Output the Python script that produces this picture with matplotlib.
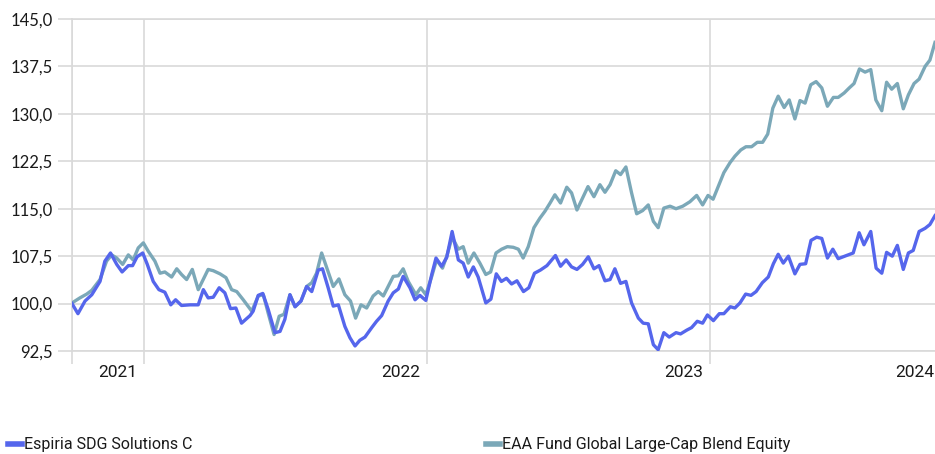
import matplotlib.pyplot as plt

# Growth of 100 — dates as decimal years
espiria_t = [2020.746, 2020.767, 2020.792, 2020.816, 2020.845, 2020.862, 2020.882, 2020.904, 2020.923, 2020.945,
             2020.960, 2020.976, 2020.996, 2021.012, 2021.033, 2021.053, 2021.074, 2021.095, 2021.112, 2021.133,
             2021.163, 2021.192, 2021.210, 2021.227, 2021.245, 2021.266, 2021.286, 2021.306, 2021.325, 2021.345,
             2021.375, 2021.386, 2021.404, 2021.420, 2021.439, 2021.463, 2021.481, 2021.498, 2021.516, 2021.534,
             2021.555, 2021.575, 2021.593, 2021.616, 2021.631, 2021.651, 2021.669, 2021.687, 2021.710, 2021.728,
             2021.746, 2021.763, 2021.781, 2021.805, 2021.822, 2021.840, 2021.863, 2021.881, 2021.899, 2021.916,
             2021.940, 2021.958, 2021.975, 2021.996, 2022.017, 2022.032, 2022.052, 2022.070, 2022.089, 2022.111,
             2022.128, 2022.146, 2022.164, 2022.181, 2022.208, 2022.226, 2022.245, 2022.263, 2022.281, 2022.299,
             2022.318, 2022.341, 2022.360, 2022.380, 2022.401, 2022.424, 2022.454, 2022.472, 2022.492, 2022.511,
             2022.530, 2022.550, 2022.570, 2022.590, 2022.608, 2022.629, 2022.647, 2022.664, 2022.684, 2022.703,
             2022.723, 2022.747, 2022.764, 2022.782, 2022.800, 2022.817, 2022.837, 2022.856, 2022.880, 2022.896,
             2022.918, 2022.935, 2022.955, 2022.974, 2022.991, 2023.012, 2023.033, 2023.049, 2023.072, 2023.088,
             2023.106, 2023.126, 2023.145, 2023.163, 2023.185, 2023.206, 2023.224, 2023.241, 2023.259, 2023.277,
             2023.300, 2023.318, 2023.338, 2023.357, 2023.377, 2023.395, 2023.415, 2023.434, 2023.453, 2023.477,
             2023.506, 2023.527, 2023.544, 2023.568, 2023.587, 2023.607, 2023.624, 2023.644, 2023.662, 2023.683,
             2023.701, 2023.718, 2023.739, 2023.760, 2023.777, 2023.795]
espiria_v = [100.0, 98.4, 100.4, 101.4, 103.5, 106.7, 108.0, 106.2, 105.0, 106.0,
             106.0, 107.4, 108.0, 106.2, 103.5, 102.2, 101.8, 99.8, 100.6, 99.7,
             99.8, 99.8, 102.2, 100.9, 101.0, 102.5, 101.7, 99.2, 99.3, 96.9,
             98.1, 98.8, 101.3, 101.6, 99.1, 95.4, 95.6, 97.5, 101.4, 99.5,
             100.4, 102.7, 101.9, 105.3, 105.5, 102.5, 99.6, 99.8, 96.4, 94.6,
             93.3, 94.2, 94.7, 96.2, 97.2, 98.1, 100.4, 101.7, 102.3, 104.3,
             102.5, 100.6, 101.3, 100.5, 104.6, 107.2, 105.9, 107.3, 111.4, 106.9,
             106.4, 104.2, 105.8, 104.2, 100.1, 100.7, 104.7, 103.5, 104.0, 103.1,
             103.6, 101.9, 102.5, 104.8, 105.3, 106.0, 107.6, 105.9, 106.9, 105.8,
             105.4, 106.2, 107.4, 105.5, 106.0, 103.6, 103.8, 105.5, 103.2, 103.5,
             100.1, 97.7, 96.9, 96.8, 93.5, 92.7, 95.4, 94.7, 95.4, 95.2,
             95.8, 96.2, 97.2, 96.9, 98.2, 97.3, 98.4, 98.4, 99.5, 99.3,
             100.1, 101.5, 101.3, 101.9, 103.3, 104.2, 106.3, 107.8, 106.4, 107.5,
             104.7, 106.2, 106.3, 110.0, 110.5, 110.3, 107.2, 108.6, 107.1, 107.5,
             108.0, 111.2, 109.3, 111.4, 105.6, 104.8, 108.1, 107.5, 109.2, 105.4,
             108.0, 108.4, 111.4, 111.9, 112.5, 113.9]

eaa_t = [2020.746, 2020.774, 2020.798, 2020.816, 2020.845, 2020.868, 2020.886, 2020.904, 2020.925, 2020.945,
         2020.962, 2020.980, 2020.998, 2021.015, 2021.039, 2021.057, 2021.074, 2021.098, 2021.116, 2021.133,
         2021.151, 2021.171, 2021.192, 2021.227, 2021.245, 2021.269, 2021.290, 2021.310, 2021.328, 2021.351,
         2021.381, 2021.404, 2021.422, 2021.439, 2021.460, 2021.478, 2021.495, 2021.516, 2021.534, 2021.555,
         2021.575, 2021.593, 2021.610, 2021.628, 2021.648, 2021.669, 2021.689, 2021.710, 2021.730, 2021.748,
         2021.767, 2021.787, 2021.810, 2021.828, 2021.846, 2021.863, 2021.881, 2021.899, 2021.916, 2021.934,
         2021.961, 2021.978, 2021.996, 2022.017, 2022.034, 2022.055, 2022.070, 2022.089, 2022.111, 2022.128,
         2022.146, 2022.166, 2022.187, 2022.208, 2022.225, 2022.244, 2022.264, 2022.284, 2022.305, 2022.323,
         2022.340, 2022.358, 2022.378, 2022.399, 2022.417, 2022.435, 2022.452, 2022.472, 2022.494, 2022.511,
         2022.530, 2022.550, 2022.569, 2022.590, 2022.611, 2022.629, 2022.647, 2022.667, 2022.684, 2022.703,
         2022.723, 2022.741, 2022.762, 2022.782, 2022.800, 2022.817, 2022.837, 2022.859, 2022.880, 2022.904,
         2022.929, 2022.953, 2022.974, 2022.993, 2023.011, 2023.029, 2023.049, 2023.071, 2023.088, 2023.109,
         2023.127, 2023.147, 2023.167, 2023.186, 2023.204, 2023.222, 2023.241, 2023.262, 2023.280, 2023.300,
         2023.318, 2023.336, 2023.356, 2023.375, 2023.395, 2023.415, 2023.436, 2023.453, 2023.474, 2023.492,
         2023.509, 2023.528, 2023.548, 2023.568, 2023.586, 2023.607, 2023.624, 2023.642, 2023.662, 2023.683,
         2023.701, 2023.721, 2023.739, 2023.760, 2023.777, 2023.795]
eaa_v = [100.1, 100.9, 101.5, 102.1, 103.8, 106.7, 107.7, 107.2, 106.2, 107.7,
         106.9, 108.8, 109.6, 108.3, 106.7, 104.8, 105.0, 104.2, 105.5, 104.6,
         103.8, 105.4, 102.2, 105.4, 105.2, 104.7, 104.1, 102.2, 101.9, 100.6,
         98.8, 101.2, 101.4, 98.5, 95.1, 98.0, 98.3, 101.4, 99.5, 100.4,
         102.7, 103.3, 104.8, 108.0, 105.4, 102.7, 103.9, 101.4, 100.4, 97.7,
         99.8, 99.3, 101.2, 101.9, 101.2, 102.7, 104.3, 104.4, 105.5, 103.5,
         101.4, 102.5, 101.4, 104.3, 106.9, 105.6, 107.5, 110.5, 108.6, 109.0,
         106.4, 108.0, 106.4, 104.6, 105.0, 108.0, 108.6, 109.0, 108.9, 108.6,
         107.2, 109.0, 112.0, 113.5, 114.6, 115.9, 117.2, 115.9, 118.4, 117.5,
         114.8, 116.7, 118.5, 116.9, 118.8, 117.6, 118.8, 121.0, 120.4, 121.6,
         117.5, 114.2, 114.7, 115.6, 113.0, 112.0, 115.1, 115.4, 115.0, 115.4,
         116.1, 117.1, 115.6, 117.1, 116.5, 118.5, 120.7, 122.3, 123.3, 124.3,
         124.8, 124.8, 125.5, 125.5, 126.8, 130.9, 132.8, 131.0, 132.2, 129.2,
         132.1, 131.7, 134.6, 135.1, 134.1, 131.2, 132.6, 132.6, 133.3, 134.1,
         134.8, 137.1, 136.6, 137.0, 132.2, 130.5, 135.0, 133.9, 134.8, 130.8,
         133.0, 134.8, 135.5, 137.5, 138.5, 141.3]

series_names = ['Espiria SDG Solutions C', 'EAA Fund Global Large-Cap Blend Equity']
y_ticks = [92.5, 100.0, 107.5, 115.0, 122.5, 130.0, 137.5, 145.0]
year_ticks = [2021, 2022, 2023, 2024]
year_labels = ['2021', '2022', '2023', '2024']

blue = '#5566EC'
teal = '#7BA8B8'
grid_c = '#D9D9D9'
text_c = '#1A1A1A'

fig = plt.figure(figsize=(9.35, 4.54), dpi=100)
ax = fig.add_axes([72 / 935, 1 - 351 / 454, 863 / 935, 332 / 454])

x0, x1 = espiria_t[0], espiria_t[-1]
ax.set_xlim(x0, x1)
ax.set_ylim(92.5, 145.0)

l_eaa, = ax.plot(eaa_t, eaa_v, color=teal, lw=2.4, solid_joinstyle='round', zorder=3)
l_esp, = ax.plot(espiria_t, espiria_v, color=blue, lw=2.4, solid_joinstyle='round', zorder=4)

# gridlines and tick marks in the same light grey
ax.set_yticks(y_ticks)
ax.set_yticklabels([f'{v:.1f}'.replace('.', ',') for v in y_ticks],
                   fontfamily='Lato', fontsize=12, color=text_c)
ax.set_xticks([x0] + year_ticks[:3])
ax.set_xticklabels([])
ax.tick_params(axis='y', length=10, width=1.2, color=grid_c, pad=4)
ax.tick_params(axis='x', length=9, width=1.2, color=grid_c)
ax.grid(True, color=grid_c, lw=1.2, zorder=0)
ax.set_axisbelow(True)
for side in ['left', 'top', 'bottom']:
    ax.spines[side].set_color(grid_c)
    ax.spines[side].set_linewidth(1.2)
ax.spines['right'].set_visible(False)

# year labels sit left of their gridline; the last one is pushed inside
for yr, lab in zip(year_ticks, year_labels):
    xpos = min(yr - 0.092, x1 - 0.07)
    ax.text(xpos, -0.066, lab, transform=ax.get_xaxis_transform(), ha='center', va='center',
            fontsize=12.5, family='Roboto', color=text_c, clip_on=False)

# legend, two separate entries along the bottom
for line, name, xa in [(l_esp, series_names[0], 8 / 935), (l_eaa, series_names[1], 486 / 935)]:
    leg = fig.legend([line], [name], loc='center left', bbox_to_anchor=(xa, 9 / 454),
                     frameon=False, handlelength=0.9, handletextpad=0.12, borderpad=0,
                     borderaxespad=0, prop={'family': 'Roboto', 'size': 11.5})
    leg.get_lines()[0].set_linewidth(4)
    for t in leg.get_texts():
        t.set_color(text_c)

fig.savefig('out.png', dpi=100)
